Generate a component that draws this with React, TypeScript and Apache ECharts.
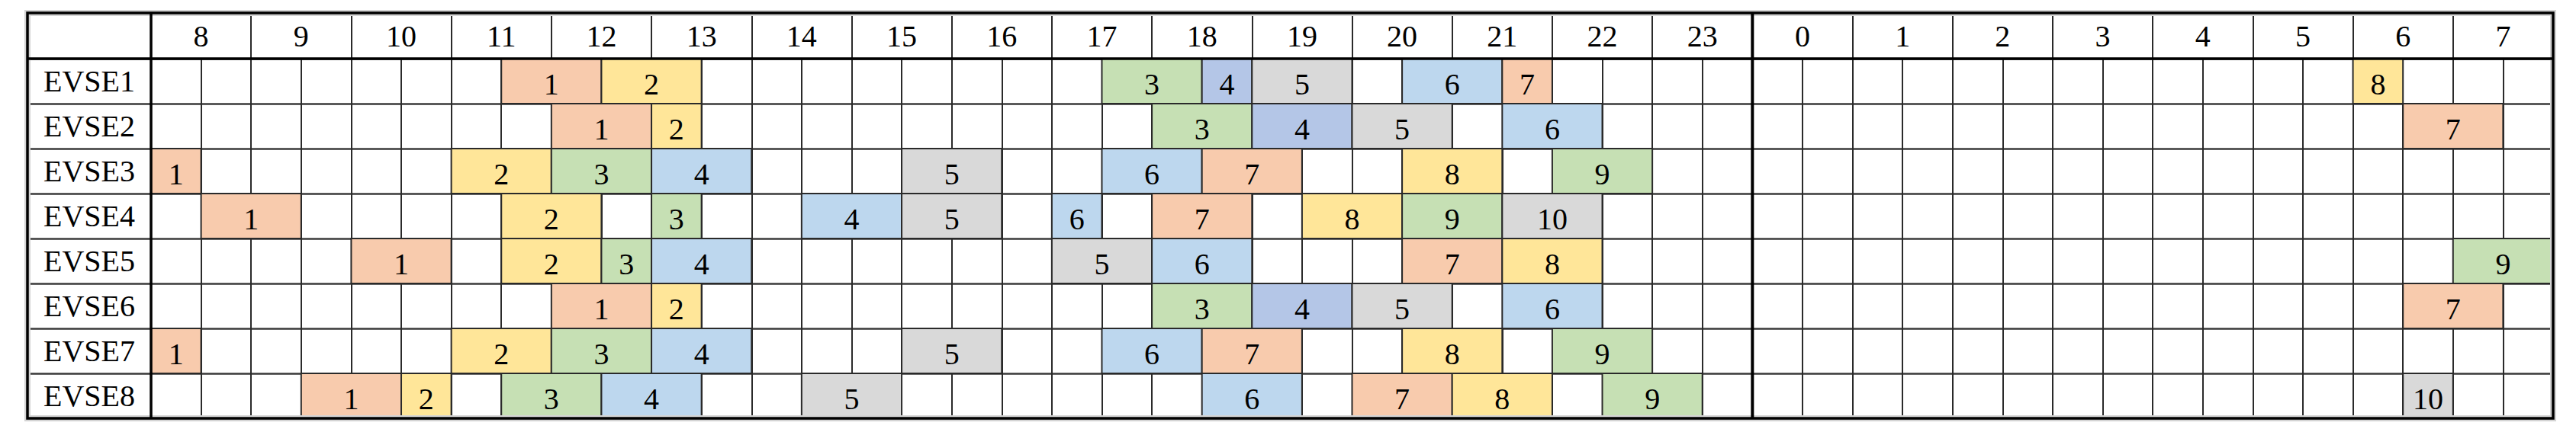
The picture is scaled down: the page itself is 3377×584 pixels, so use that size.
import React, { useEffect, useRef } from 'react';
import * as echarts from 'echarts';

// ---------- data ----------
const chargers = ['EVSE1', 'EVSE2', 'EVSE3', 'EVSE4', 'EVSE5', 'EVSE6', 'EVSE7', 'EVSE8'];
const hourLabels = ['8', '9', '10', '11', '12', '13', '14', '15', '16', '17', '18', '19', '20', '21', '22', '23', '0', '1', '2', '3', '4', '5', '6', '7'];

type Session = [string, string, string]; // [start, end, colour key]; the number is the order in the row

const evse1: Session[] = [
  ['11:30', '12:30', 'salmon'], ['12:30', '13:30', 'yellow'], ['17:30', '18:30', 'green'], ['18:30', '19:00', 'indigo'],
  ['19:00', '20:00', 'gray'], ['20:30', '21:30', 'blue'], ['21:30', '22:00', 'salmon'], ['06:00', '06:30', 'yellow'],
];
const evse2: Session[] = [
  ['12:00', '13:00', 'salmon'], ['13:00', '13:30', 'yellow'], ['18:00', '19:00', 'green'], ['19:00', '20:00', 'indigo'],
  ['20:00', '21:00', 'gray'], ['21:30', '22:30', 'blue'], ['06:30', '07:30', 'salmon'],
];
const evse3: Session[] = [
  ['08:00', '08:30', 'salmon'], ['11:00', '12:00', 'yellow'], ['12:00', '13:00', 'green'], ['13:00', '14:00', 'blue'],
  ['15:30', '16:30', 'gray'], ['17:30', '18:30', 'blue'], ['18:30', '19:30', 'salmon'], ['20:30', '21:30', 'yellow'],
  ['22:00', '23:00', 'green'],
];
const evse4: Session[] = [
  ['08:30', '09:30', 'salmon'], ['11:30', '12:30', 'yellow'], ['13:00', '13:30', 'green'], ['14:30', '15:30', 'blue'],
  ['15:30', '16:30', 'gray'], ['17:00', '17:30', 'blue'], ['18:00', '19:00', 'salmon'], ['19:30', '20:30', 'yellow'],
  ['20:30', '21:30', 'green'], ['21:30', '22:30', 'gray'],
];
const evse5: Session[] = [
  ['10:00', '11:00', 'salmon'], ['11:30', '12:30', 'yellow'], ['12:30', '13:00', 'green'], ['13:00', '14:00', 'blue'],
  ['17:00', '18:00', 'gray'], ['18:00', '19:00', 'blue'], ['20:30', '21:30', 'salmon'], ['21:30', '22:30', 'yellow'],
  ['07:00', '08:00', 'green'],
];
const evse6: Session[] = [
  ['12:00', '13:00', 'salmon'], ['13:00', '13:30', 'yellow'], ['18:00', '19:00', 'green'], ['19:00', '20:00', 'indigo'],
  ['20:00', '21:00', 'gray'], ['21:30', '22:30', 'blue'], ['06:30', '07:30', 'salmon'],
];
const evse7: Session[] = [
  ['08:00', '08:30', 'salmon'], ['11:00', '12:00', 'yellow'], ['12:00', '13:00', 'green'], ['13:00', '14:00', 'blue'],
  ['15:30', '16:30', 'gray'], ['17:30', '18:30', 'blue'], ['18:30', '19:30', 'salmon'], ['20:30', '21:30', 'yellow'],
  ['22:00', '23:00', 'green'],
];
const evse8: Session[] = [
  ['09:30', '10:30', 'salmon'], ['10:30', '11:00', 'yellow'], ['11:30', '12:30', 'green'], ['12:30', '13:30', 'blue'],
  ['14:30', '15:30', 'gray'], ['18:30', '19:30', 'blue'], ['20:00', '21:00', 'salmon'], ['21:00', '22:00', 'yellow'],
  ['22:30', '23:30', 'green'], ['06:30', '07:00', 'gray'],
];
const schedule: Session[][] = [evse1, evse2, evse3, evse4, evse5, evse6, evse7, evse8];

// ---------- styles ----------
const palette: Record<string, string> = {
  salmon: '#F8CBAD',
  yellow: '#FFE699',
  green: '#C6E0B4',
  blue: '#BDD7EE',
  indigo: '#B4C6E7',
  gray: '#D9D9D9',
};
const FONT = '"Liberation Serif", "Times New Roman", serif';
const FONT_SIZE = 40;
const HEADER_H = 60;
const LABEL_COL_W = 162;
const SLOTS = 48; // half-hour slots from 08:00 to 08:00 next day

const toSlot = (t: string) => {
  const [h, m] = t.split(':').map(Number);
  return (((h * 2 + m / 30) - 16) % 48 + 48) % 48;
};
const MIDNIGHT = toSlot('00:00');

type Block = { s: number; e: number; row: number; num: number; color: string };
const blocks: Block[] = [];
schedule.forEach((list, row) => {
  list.forEach(([a, b, c], i) => {
    const s = toSlot(a);
    let e = toSlot(b);
    if (e <= s) e += 48;
    blocks.push({ s, e, row, num: i + 1, color: c });
  });
});

export default function App() {
  const ref = useRef<HTMLDivElement>(null);
  useEffect(() => {
    if (!ref.current) return;
    const chart = echarts.init(ref.current, undefined, { renderer: 'svg' });
    const option: any = {
      animation: false,
      backgroundColor: '#ffffff',
      grid: { left: 198, top: 77, width: 3149, height: 472, show: false },
      xAxis: [
        {
          type: 'value', min: 0, max: SLOTS, interval: 1, gridIndex: 0,
          axisLabel: { show: false }, axisTick: { show: false }, axisLine: { show: false },
          splitLine: { show: true, lineStyle: { color: '#2a2a2a', width: 2 } },
        },
        {
          type: 'category', data: hourLabels, position: 'top', boundaryGap: true, gridIndex: 0,
          axisLine: { show: false },
          axisTick: { show: true, length: HEADER_H, lineStyle: { color: '#2a2a2a', width: 2 } },
          axisLabel: {
            show: true, interval: 0, margin: 30, verticalAlign: 'middle', padding: [8, 0, 0, 0],
            fontFamily: FONT, fontSize: FONT_SIZE, color: '#000',
          },
          splitLine: { show: false },
        },
      ],
      yAxis: {
        type: 'category', data: chargers, inverse: true, boundaryGap: true,
        axisLine: { show: false },
        axisTick: { show: true, length: LABEL_COL_W, lineStyle: { color: '#3a3a3a', width: 2.5 } },
        axisLabel: {
          show: true, interval: 0, margin: 81, align: 'center', verticalAlign: 'middle', padding: [8, 0, 0, 0],
          fontFamily: FONT, fontSize: FONT_SIZE, color: '#000',
        },
        splitLine: { show: true, lineStyle: { color: '#3a3a3a', width: 2.5 } },
      },
      series: [
        {
          type: 'custom', name: 'sessions', xAxisIndex: 0, yAxisIndex: 0, silent: true, z: 3,
          data: blocks.map((b) => [b.s, b.e, b.row, b.num]),
          encode: { x: [0, 1], y: 2 },
          renderItem: (params: any, api: any) => {
            const b = blocks[params.dataIndex];
            const p0 = api.coord([b.s, b.row]);
            const p1 = api.coord([b.e, b.row]);
            const h = api.size([0, 1])[1];
            const x = p0[0];
            const w = p1[0] - p0[0];
            const y = p0[1] - h / 2;
            return {
              type: 'group',
              children: [
                {
                  type: 'rect', shape: { x, y, width: w, height: h },
                  style: { fill: palette[b.color], stroke: '#2a2a2a', lineWidth: 2 },
                },
                {
                  type: 'text',
                  style: {
                    text: String(b.num), x: x + w / 2, y: p0[1] + 4, align: 'center', verticalAlign: 'middle',
                    fontFamily: FONT, fontSize: FONT_SIZE, fill: '#000',
                  },
                },
              ],
            };
          },
        },
        {
          type: 'custom', name: 'frame', xAxisIndex: 0, yAxisIndex: 0, silent: true, z: 5,
          data: [[0, 0]],
          encode: { x: 0, y: 1 },
          renderItem: (params: any, api: any) => {
            const cs = params.coordSys;
            const left = cs.x - LABEL_COL_W;
            const top = cs.y - HEADER_H;
            const right = cs.x + cs.width;
            const bottom = cs.y + cs.height;
            const dayX = api.coord([MIDNIGHT, 0])[0];
            const thick = { stroke: '#000', lineWidth: 3.5 };
            return {
              type: 'group',
              children: [
                { type: 'rect', shape: { x: left, y: top, width: right - left, height: bottom - top }, style: { fill: 'none', stroke: '#d4d4d4', lineWidth: 8 } },
                { type: 'rect', shape: { x: left, y: top, width: right - left, height: bottom - top }, style: { fill: 'none', ...thick } },
                { type: 'line', shape: { x1: left, y1: cs.y, x2: right, y2: cs.y }, style: thick },
                { type: 'line', shape: { x1: cs.x, y1: top, x2: cs.x, y2: bottom }, style: thick },
                { type: 'line', shape: { x1: dayX, y1: top, x2: dayX, y2: bottom }, style: { stroke: '#000', lineWidth: 4 } },
              ],
            };
          },
        },
      ],
    };
    chart.setOption(option);
    return () => chart.dispose();
  }, []);
  return (
    <div
      ref={ref}
      style={{ position: 'fixed', left: 0, top: 0, width: 3377, height: 584, background: '#fff' }}
    />
  );
}
